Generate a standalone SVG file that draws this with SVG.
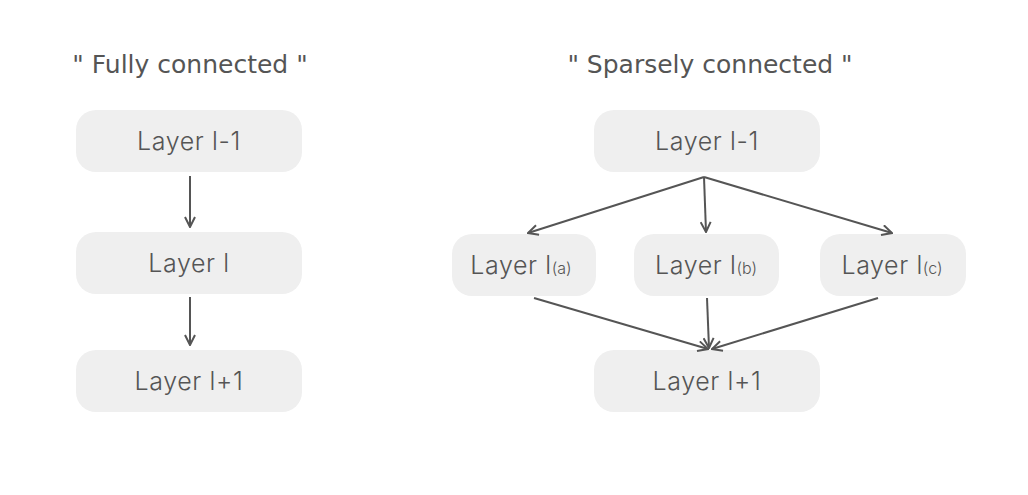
<svg xmlns="http://www.w3.org/2000/svg" width="1028" height="495" viewBox="0 0 1028 495">
<defs>
<style>
.box{fill:#efefef}
.lbl{font-family:Inter,"Noto Sans",sans-serif;font-size:25px;font-weight:300;letter-spacing:0.6px;fill:#555;text-anchor:middle}
.sub{font-size:16px;letter-spacing:0}
.title{font-family:"Comic Sans MS","DejaVu Sans",sans-serif;font-size:25px;fill:#555;text-anchor:middle}
.edge{stroke:#555;stroke-width:2;fill:none;marker-end:url(#ah)}
</style>
<marker id="ah" viewBox="0 0 12 12" refX="11" refY="6" markerWidth="12" markerHeight="12" markerUnits="userSpaceOnUse" orient="auto">
<path d="M1,1 L11,6 L1,11" fill="none" stroke="#555" stroke-width="2"/>
</marker>
</defs>
<rect width="1028" height="495" fill="#fff"/>
<text class="title" x="190" y="73">" Fully connected "</text>
<text class="title" x="710" y="73">" Sparsely connected "</text>
<g id="L-lm1"><rect class="box" x="76" y="110" width="226" height="62" rx="20"/><text class="lbl" x="189" y="150">Layer l-1</text></g>
<g id="L-l"><rect class="box" x="76" y="232" width="226" height="62" rx="20"/><text class="lbl" x="189" y="272">Layer l</text></g>
<g id="L-lp1"><rect class="box" x="76" y="350" width="226" height="62" rx="20"/><text class="lbl" x="189" y="390">Layer l+1</text></g>
<g id="R-lm1"><rect class="box" x="594" y="110" width="226" height="62" rx="20"/><text class="lbl" x="707" y="150">Layer l-1</text></g>
<g id="R-la"><rect class="box" x="452" y="234" width="144" height="62" rx="20"/><text class="lbl" x="521" y="274">Layer l<tspan class="sub">(a)</tspan></text></g>
<g id="R-lb"><rect class="box" x="634" y="234" width="145" height="62" rx="20"/><text class="lbl" x="706" y="274">Layer l<tspan class="sub">(b)</tspan></text></g>
<g id="R-lc"><rect class="box" x="820" y="234" width="146" height="62" rx="20"/><text class="lbl" x="892" y="274">Layer l<tspan class="sub">(c)</tspan></text></g>
<g id="R-lp1"><rect class="box" x="594" y="350" width="226" height="62" rx="20"/><text class="lbl" x="707" y="390">Layer l+1</text></g>
<g id="connectors">
<line class="edge" x1="190" y1="176" x2="190" y2="227"/>
<line class="edge" x1="190" y1="297" x2="190" y2="345"/>
<line class="edge" x1="704" y1="177" x2="528" y2="233"/>
<line class="edge" x1="704" y1="177" x2="706" y2="232"/>
<line class="edge" x1="704" y1="177" x2="892" y2="233"/>
<line class="edge" x1="534" y1="298" x2="708" y2="349"/>
<line class="edge" x1="707" y1="298" x2="709" y2="348"/>
<line class="edge" x1="878" y1="298" x2="712" y2="349"/>
</g>
</svg>
